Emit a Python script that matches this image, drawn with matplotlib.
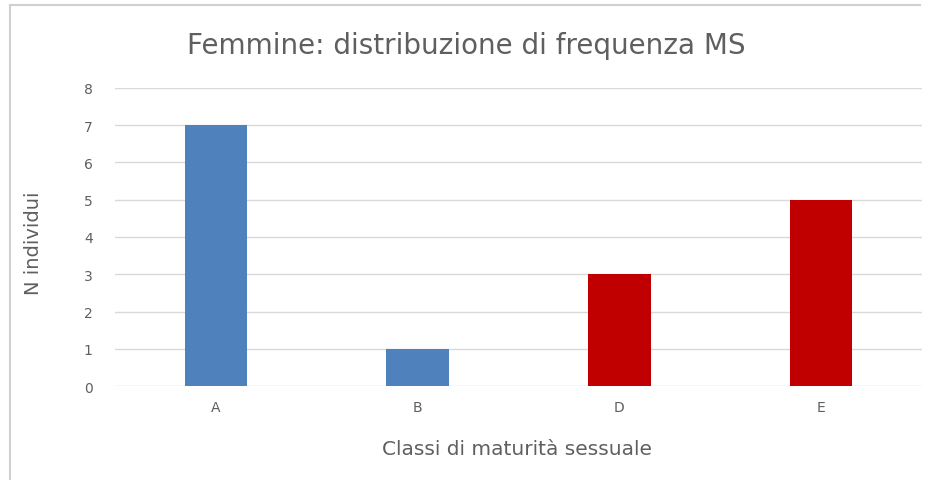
import matplotlib.pyplot as plt
from matplotlib.lines import Line2D

categories = ["A", "B", "D", "E"]
counts = [7, 1, 3, 5]
bar_colors = ["#4F81BD", "#4F81BD", "#C00000", "#C00000"]

plt.rcParams['font.family'] = ['DejaVu Sans']
text_col = "#5F5F5F"

fig = plt.figure(figsize=(9.39, 4.81), dpi=100)
ax = fig.add_axes([0.1225, 0.1954, 0.8595, 0.6196])

x = range(len(categories))
ax.bar(x, counts, width=0.31, color=bar_colors, zorder=3)
ax.set_xlim(-0.5, len(categories) - 0.5)
ax.set_ylim(0, 8)
ax.set_yticks(range(0, 9))
ax.set_xticks(list(x))
ax.set_xticklabels(categories)
ax.grid(axis='y', color="#D9D9D9", linewidth=1, zorder=0)
for s in ax.spines.values():
    s.set_visible(False)
ax.tick_params(length=0, colors=text_col, labelsize=10, pad=16)
ax.tick_params(axis='x', pad=10)

fig.text(0.497, 0.905, "Femmine: distribuzione di frequenza MS", ha='center', va='center',
         fontsize=20, color=text_col)
fig.text(0.551, 0.066, "Classi di maturità sessuale", ha='center', va='center',
         fontsize=14.5, color=text_col)
fig.text(0.036, 0.495, "N individui", ha='center', va='center', rotation=90,
         fontsize=14, color=text_col)

# outer frame (top and left edges visible)
fig.add_artist(Line2D([10/939, 920/939], [1 - 6/481, 1 - 6/481], color="#D0D0D0", lw=1.5))
fig.add_artist(Line2D([10/939, 10/939], [0, 1 - 6/481], color="#D0D0D0", lw=1.5))

fig.savefig("out.png", dpi=100)
